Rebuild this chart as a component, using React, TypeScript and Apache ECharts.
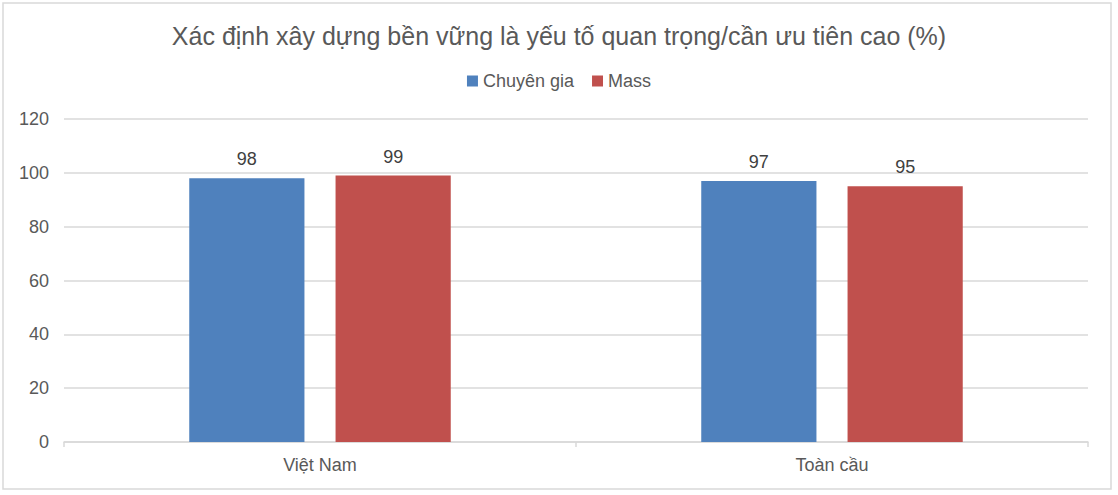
import { useEffect, useRef } from 'react';
import * as echarts from 'echarts';

const categories = ['Việt Nam', 'Toàn cầu'];
const expertValues = [98, 97];
const massValues = [99, 95];
const seriesNames = ['Chuyên gia', 'Mass'];
const yTicks = { min: 0, max: 120, interval: 20 };

const FONT = '"Liberation Sans", Arial, sans-serif';
const TEXT = '#595959';
const GRID_LINE = '#d9d9d9';

export default function App() {
  const chartRef = useRef<HTMLDivElement>(null);

  useEffect(() => {
    if (!chartRef.current) return;
    const chart = echarts.init(chartRef.current, undefined, { renderer: 'svg' });

    const label = {
      show: true,
      position: 'top' as const,
      distance: 10,
      color: '#404040',
      fontSize: 18,
      fontFamily: FONT,
    };

    const option: echarts.EChartsOption = {
      animation: false,
      backgroundColor: '#ffffff',
      textStyle: { fontFamily: FONT },
      title: {
        text: 'Xác định xây dựng bền vững là yếu tố quan trọng/cần ưu tiên cao (%)',
        left: 'center',
        top: 23,
        padding: 0,
        textStyle: {
          color: TEXT,
          fontSize: 25,
          fontWeight: 'normal',
          fontFamily: FONT,
        },
      },
      legend: {
        top: 72,
        left: 'center',
        padding: 0,
        itemWidth: 11,
        itemHeight: 11,
        itemGap: 18,
        icon: 'rect',
        textStyle: { color: TEXT, fontSize: 18, fontFamily: FONT },
        data: seriesNames,
      },
      grid: {
        left: 64,
        right: 30,
        top: 119,
        bottom: 53,
      },
      xAxis: {
        type: 'category',
        data: categories,
        axisLine: { lineStyle: { color: GRID_LINE, width: 1.5 } },
        axisTick: { show: true, length: 5, lineStyle: { color: GRID_LINE, width: 1.5 } },
        axisLabel: { color: TEXT, fontSize: 18, fontFamily: FONT, margin: 14 },
        splitLine: { show: false },
      },
      yAxis: {
        type: 'value',
        min: yTicks.min,
        max: yTicks.max,
        interval: yTicks.interval,
        axisLine: { show: false },
        axisTick: { show: false },
        axisLabel: { color: TEXT, fontSize: 18, fontFamily: FONT, margin: 15 },
        splitLine: { lineStyle: { color: GRID_LINE, width: 1.5 } },
      },
      series: [
        {
          name: seriesNames[0],
          type: 'bar',
          data: expertValues,
          barWidth: '22.5%',
          barGap: '27%',
          itemStyle: { color: '#4F81BD' },
          label,
        },
        {
          name: seriesNames[1],
          type: 'bar',
          data: massValues,
          barWidth: '22.5%',
          barGap: '27%',
          itemStyle: { color: '#C0504D' },
          label,
        },
      ],
      graphic: [
        {
          type: 'rect',
          silent: true,
          shape: { x: 3, y: 3, width: 1108, height: 486 },
          style: { fill: 'none', stroke: GRID_LINE, lineWidth: 1.5 },
        },
      ],
    };

    chart.setOption(option);
    return () => chart.dispose();
  }, []);

  return (
    <div
      ref={chartRef}
      style={{ position: 'fixed', left: 0, top: 0, width: 1118, height: 495 }}
    />
  );
}
